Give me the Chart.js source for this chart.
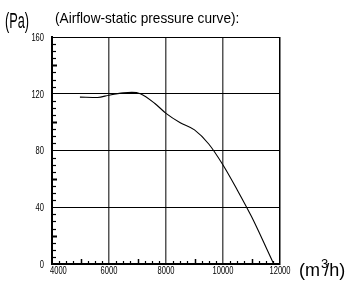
<!DOCTYPE html>
<html>
<head>
<meta charset="utf-8">
<script src="https://cdn.jsdelivr.net/npm/chart.js@4/dist/chart.umd.min.js"></script>
<style>
   body { margin: 0; background: #fff; }
   #wrap { position: relative; width: 349px; height: 287px; }
   .lbl { position: absolute; font-family: 'Liberation Sans', Arial, sans-serif; color: #000; white-space: nowrap; line-height: 1; transform-origin: 0 0; }
</style>
</head>
<body>
<div id="wrap">
   <canvas id="fan-chart" width="349" height="287"></canvas>
   <div class="lbl" style="left:5px; top:10px; font-size:22px; transform:scaleX(0.58);">(Pa)</div>
   <div class="lbl" style="left:55px; top:10px; font-size:15px; transform:scaleX(0.91);">(Airflow-static pressure curve):</div>
   <div class="lbl" style="left:299px; top:261px; font-size:18px;">(m<span style="position:relative; top:-8px; font-size:13px; margin-left:1px; margin-right:-4px;">3</span>/h)</div>
</div>
<script>
// courbe
const airflow = [4980, 5600, 6000, 6500, 6800, 7100, 7600, 8000, 8500, 9000, 9500, 10000, 10500, 11000, 11500, 11780];
const pressure = [117.6, 117.4, 119.0, 120.6, 121, 120, 113.3, 106.2, 99.6, 94.5, 84.6, 69.8, 52.2, 33.4, 12.2, 0];

const xTicks = [4000, 6000, 8000, 10000, 12000];
const yTicks = [0, 40, 80, 120, 160];

const tickFont = "10.5px 'Liberation Sans', Arial, sans-serif";

// graduations secondaires + libelles etroits
const axisDecor = {
   id: 'axisDecor',
   afterDraw(chart) {
      const ctx = chart.ctx;
      const x = chart.scales.x;
      const y = chart.scales.y;
      ctx.save();
      ctx.strokeStyle = '#000';
      for (let v = 0; v <= 160; v += 5) {
         if (v % 40 == 0) continue;
         const py = Math.round(y.getPixelForValue(v)) + 0.5;
         const major = v % 20 == 0;
         ctx.lineWidth = major ? 2 : 1.2;
         ctx.beginPath();
         ctx.moveTo(x.left - 1, py);
         ctx.lineTo(x.left + (major ? 5 : 4), py);
         ctx.stroke();
      }
      for (let v = 4000; v <= 12000; v += 250) {
         if (v % 2000 == 0) continue;
         const px = Math.round(x.getPixelForValue(v)) + 0.5;
         const major = v % 1000 == 0;
         ctx.lineWidth = major ? 1.5 : 1.2;
         ctx.beginPath();
         ctx.moveTo(px, y.bottom + 1);
         ctx.lineTo(px, y.bottom - (major ? 5 : 3));
         ctx.stroke();
      }

      ctx.fillStyle = '#000';
      ctx.font = tickFont;
      const sx = 0.72;
      ctx.textAlign = 'right';
      ctx.textBaseline = 'middle';
      for (const v of yTicks) {
         ctx.save();
         ctx.translate(x.left - 8, y.getPixelForValue(v) + 1);
         ctx.scale(sx, 1);
         ctx.fillText(String(v), 0, 0);
         ctx.restore();
      }
      ctx.textBaseline = 'top';
      for (const v of xTicks) {
         ctx.save();
         let px = x.getPixelForValue(v);
         if (v == 4000) {
            ctx.textAlign = 'left';
            px -= 2;
         } else {
            ctx.textAlign = 'center';
         }
         ctx.translate(px, y.bottom + 2);
         ctx.scale(sx, 1);
         ctx.fillText(String(v), 0, 0);
         ctx.restore();
      }
      ctx.restore();
   }
};

new Chart(document.getElementById('fan-chart'), {
   type: 'scatter',
   data: {
      datasets: [{
         data: airflow.map((a, i) => ({ x: a, y: pressure[i] })),
         showLine: true,
         borderColor: '#000',
         borderWidth: 1.1,
         cubicInterpolationMode: 'monotone',
         pointRadius: 0
      }]
   },
   options: {
      responsive: false,
      animation: false,
      layout: { padding: { top: 37, right: 69, left: 0, bottom: 0 } },
      scales: {
         x: {
            type: 'linear',
            min: 4000,
            max: 12000,
            afterBuildTicks: (scale) => { scale.ticks = xTicks.map(v => ({ value: v })); },
            afterFit: (scale) => { scale.height = 23; },
            ticks: { display: false },
            grid: { color: (c) => (c.tick && c.tick.value == 12000) ? '#000' : '#555', lineWidth: 1.5, drawTicks: false },
            border: { color: '#000', width: 2 }
         },
         y: {
            min: 0,
            max: 160,
            afterBuildTicks: (scale) => { scale.ticks = yTicks.map(v => ({ value: v })); },
            afterFit: (scale) => { scale.width = 52; },
            ticks: { display: false },
            grid: { color: '#000', lineWidth: 1, drawTicks: false },
            border: { color: '#000', width: 2 }
         }
      },
      plugins: {
         legend: { display: false },
         tooltip: { enabled: false }
      }
   },
   plugins: [axisDecor]
});
</script>
</body>
</html>
